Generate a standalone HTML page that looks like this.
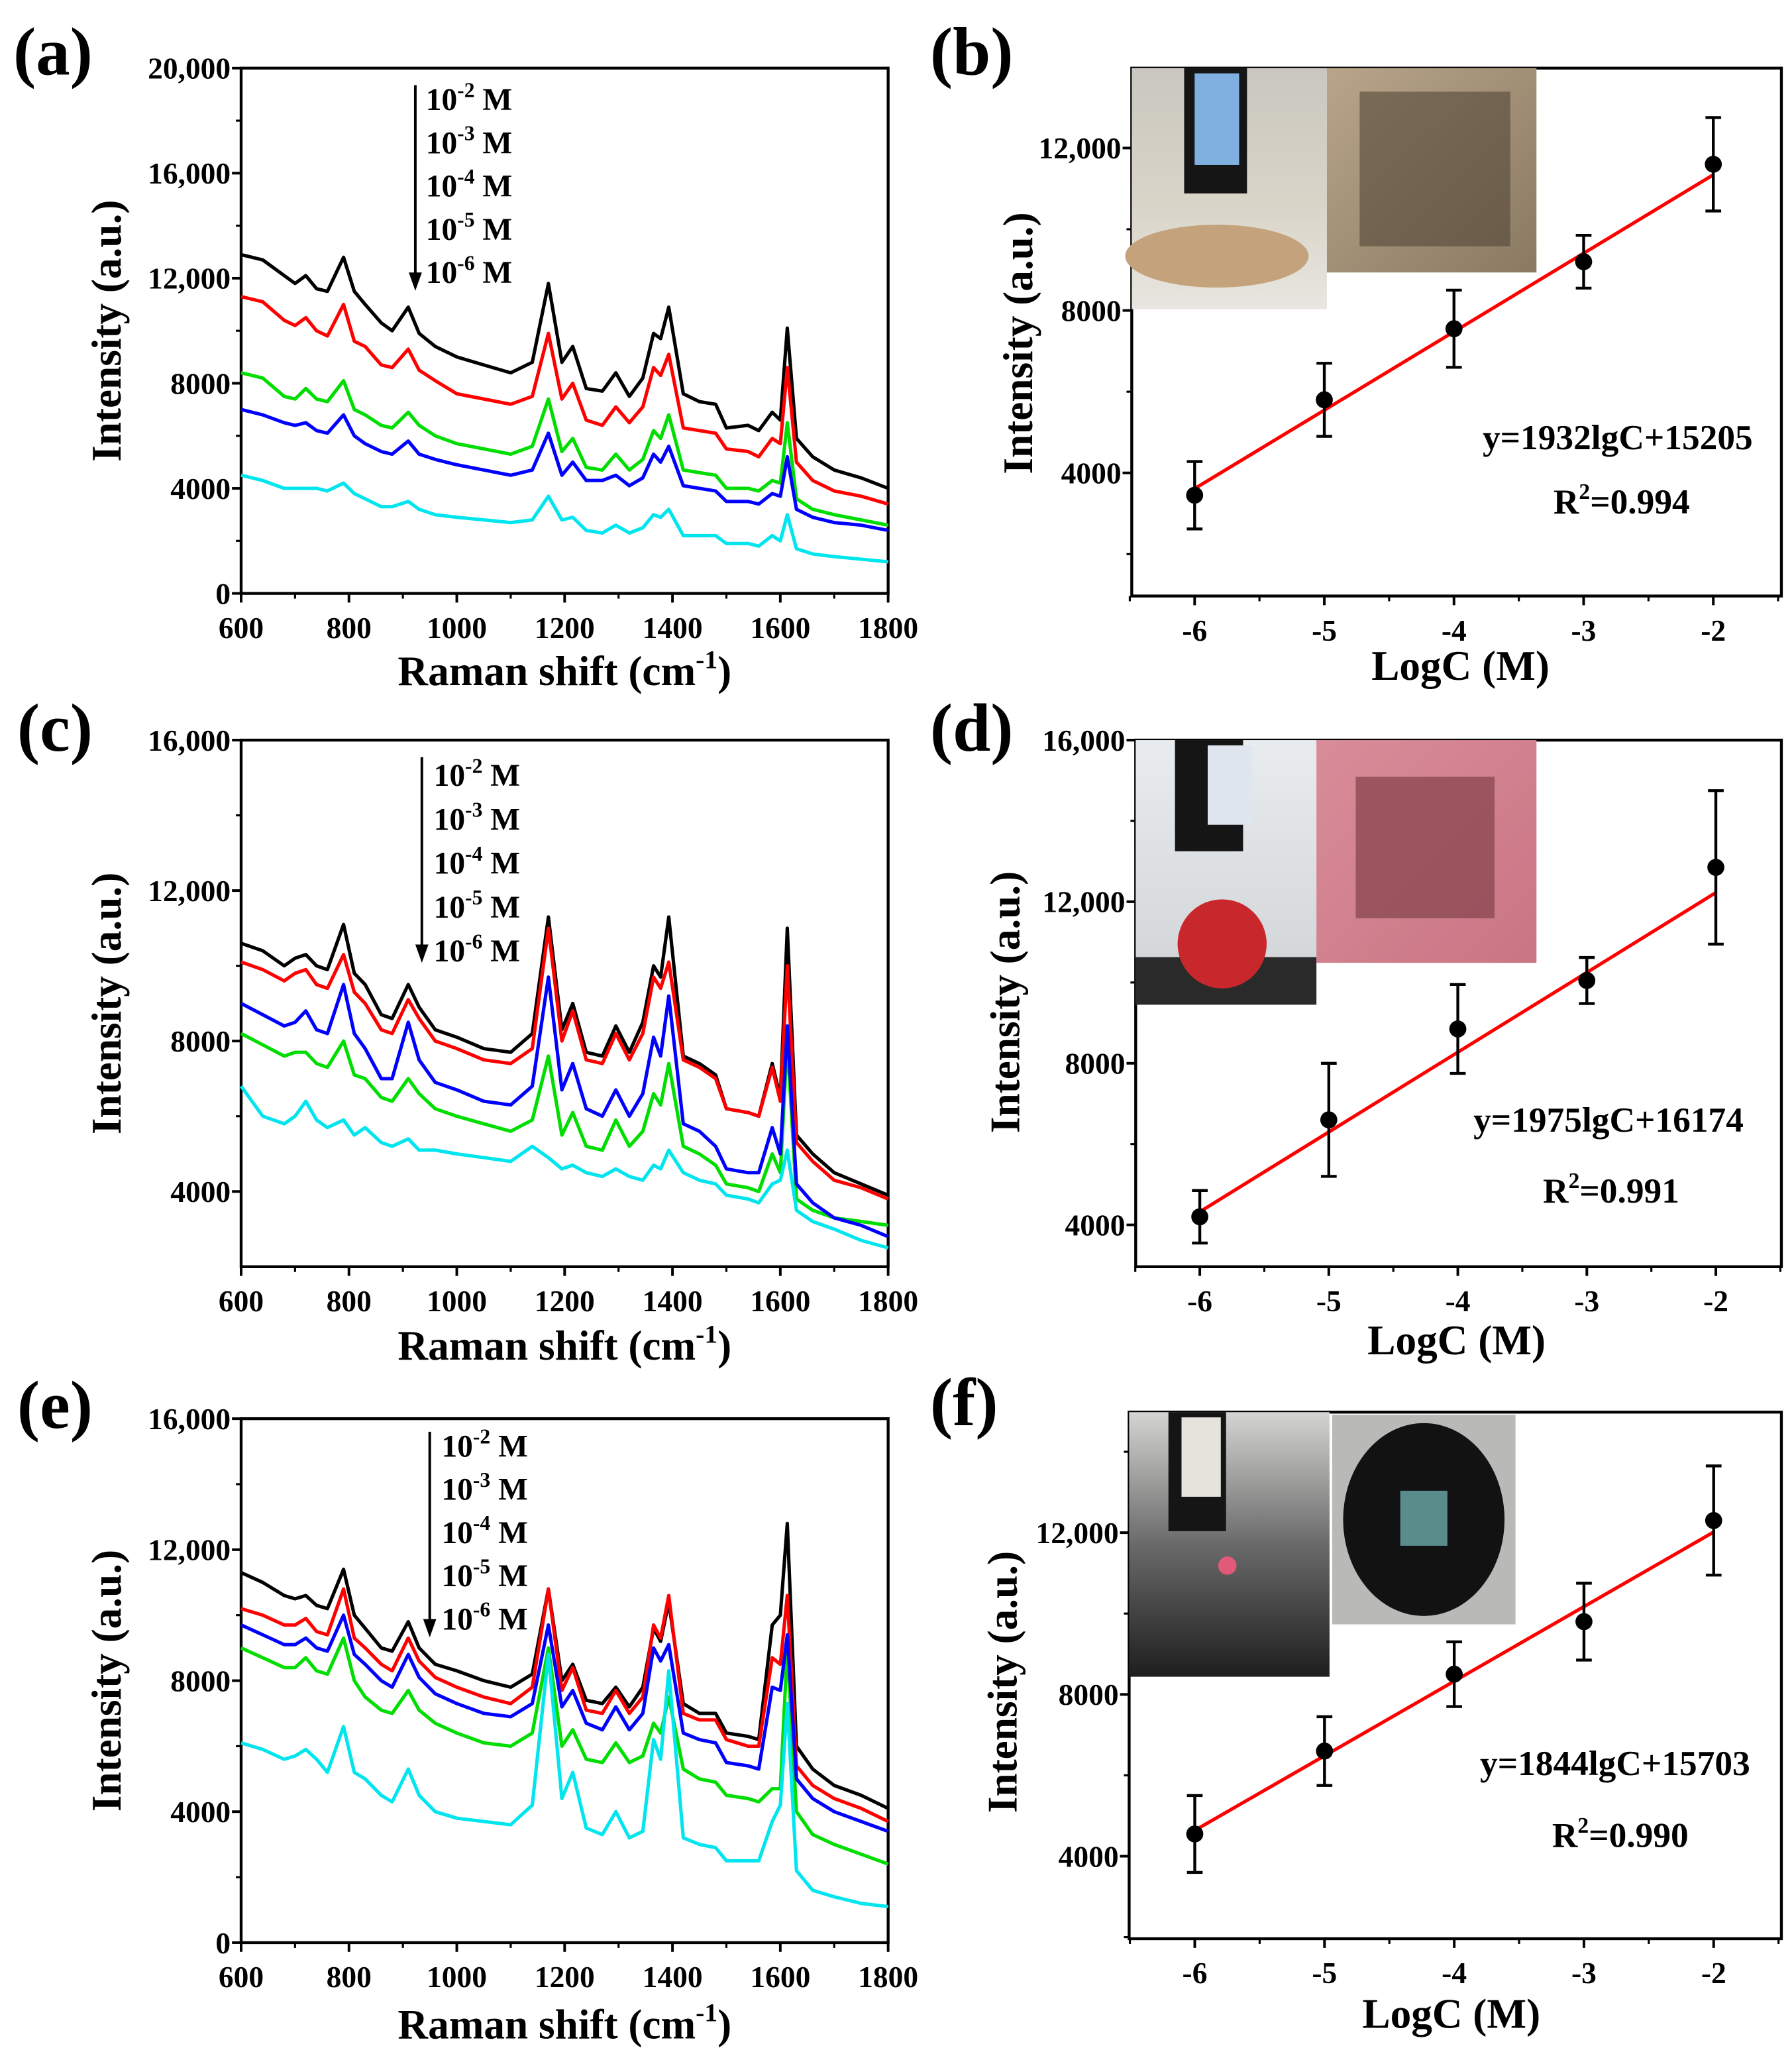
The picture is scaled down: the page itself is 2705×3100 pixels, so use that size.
<!DOCTYPE html>
<html><head><meta charset="utf-8">
<style>
html,body{margin:0;padding:0;background:#fff;}
svg{display:block;}
text{font-family:"Liberation Serif",serif;font-weight:bold;fill:#000;}
</style></head>
<body>
<svg id="fig" xmlns="http://www.w3.org/2000/svg" width="2705" height="3100" viewBox="0 0 1368 1568">
<defs>
<linearGradient id="gFish" x1="0" y1="0" x2="0" y2="1"><stop offset="0" stop-color="#c9c7bf"/><stop offset="0.55" stop-color="#d9d4c8"/><stop offset="1" stop-color="#e8e6e0"/></linearGradient>
<linearGradient id="gScale" x1="0" y1="0" x2="1" y2="1"><stop offset="0" stop-color="#b8a58a"/><stop offset="1" stop-color="#8a7a62"/></linearGradient>
<linearGradient id="gApple" x1="0" y1="0" x2="0" y2="1"><stop offset="0" stop-color="#e9ecee"/><stop offset="1" stop-color="#cfd3d6"/></linearGradient>
<linearGradient id="gPink" x1="0" y1="0" x2="1" y2="1"><stop offset="0" stop-color="#d98c99"/><stop offset="1" stop-color="#c97584"/></linearGradient>
<linearGradient id="gDark" x1="0" y1="0" x2="0" y2="1"><stop offset="0" stop-color="#d4d4d2"/><stop offset="0.5" stop-color="#6a6a6a"/><stop offset="1" stop-color="#1e1e1e"/></linearGradient>
</defs>
<g id="root"></g>
</svg>
<script>
// ---------- Data ----------
const ramanX = [600,640,680,700,720,740,760,790,810,830,860,880,910,930,960,1000,1050,1100,1140,1170,1195,1215,1240,1270,1295,1320,1345,1365,1378,1393,1420,1450,1480,1500,1540,1560,1585,1600,1613,1630,1660,1700,1750,1800];
const seriesNames = ['1e-2','1e-3','1e-4','1e-5','1e-6'];
const seriesColors = ['#000000','#ff0000','#00dd00','#0000ff','#00e5ee'];
// panel a
const aBlack = [12900,12700,12100,11800,12100,11600,11500,12800,11500,11000,10300,10000,10900,9900,9400,9000,8700,8400,8800,11800,8800,9400,7800,7700,8400,7500,8200,9900,9700,10900,7600,7300,7200,6300,6400,6200,6900,6600,10100,5900,5200,4700,4400,4000];
const aRed = [11300,11100,10400,10200,10500,10000,9800,11000,9600,9400,8700,8600,9300,8500,8100,7600,7400,7200,7500,9900,7400,8000,6600,6400,7100,6500,7100,8600,8300,9100,6300,6200,6100,5500,5400,5200,5900,5700,8600,5000,4300,3900,3700,3400];
const aGreen = [8400,8200,7500,7400,7800,7400,7300,8100,7000,6800,6400,6300,6900,6400,6000,5700,5500,5300,5600,7400,5400,5900,4800,4700,5300,4700,5100,6200,5900,6800,4700,4600,4500,4000,4000,3900,4300,4200,6500,3600,3200,3000,2800,2600];
const aBlue = [7000,6800,6500,6400,6500,6200,6100,6800,6000,5700,5400,5300,5800,5300,5100,4900,4700,4500,4700,6100,4500,5000,4300,4300,4500,4100,4400,5300,5000,5600,4100,4000,3900,3500,3500,3400,3800,3700,5200,3200,2900,2700,2600,2400];
const aCyan = [4500,4300,4000,4000,4000,4000,3900,4200,3800,3600,3300,3300,3500,3200,3000,2900,2800,2700,2800,3700,2800,2900,2400,2300,2600,2300,2500,3000,2900,3200,2200,2200,2200,1900,1900,1800,2200,2000,3000,1700,1500,1400,1300,1200];
// panel c
const cBlack = [10600,10400,10000,10200,10300,10000,9900,11100,9800,9500,8700,8600,9500,8900,8300,8100,7800,7700,8200,11300,8300,9000,7700,7600,8400,7700,8500,10000,9700,11300,7600,7400,7100,6200,6100,6000,7400,6500,11000,5500,5000,4500,4200,3900];
const cRed = [10100,9900,9600,9800,9900,9500,9400,10300,9300,9000,8300,8200,9100,8600,8000,7800,7500,7400,7800,11000,8000,8800,7500,7400,8200,7500,8200,9700,9400,10100,7500,7300,7000,6200,6100,6000,7300,6400,10000,5300,4800,4300,4100,3800];
const cGreen = [8200,7900,7600,7700,7700,7400,7300,8000,7100,7000,6500,6400,7000,6600,6200,6000,5800,5600,5900,7600,5500,6100,5200,5100,5900,5200,5600,6600,6300,7400,5200,5000,4700,4200,4100,4000,5000,4500,8000,3800,3500,3300,3200,3100];
const cBlue = [9000,8700,8400,8500,8800,8300,8200,9500,8200,7800,7000,7000,8500,7500,6900,6700,6400,6300,6800,9700,6700,7400,6200,6000,6700,6000,6600,8100,7600,9200,5800,5600,5200,4600,4500,4500,5700,5000,8400,4200,3700,3300,3100,2800];
const cCyan = [6800,6000,5800,6000,6400,5900,5700,5900,5500,5700,5300,5200,5400,5100,5100,5000,4900,4800,5200,4900,4600,4700,4500,4400,4600,4400,4300,4700,4600,5100,4500,4300,4200,3900,3800,3700,4200,4300,5100,3500,3200,3000,2700,2500];
// panel e
const eBlack = [11300,11000,10600,10500,10600,10300,10200,11400,10000,9600,9000,8900,9800,9000,8500,8300,8000,7800,8200,10800,8000,8500,7400,7300,7800,7200,7800,9600,9200,10400,7300,7000,7000,6400,6300,6200,9700,10000,12800,6000,5300,4800,4500,4100];
const eRed = [10200,10000,9700,9700,9900,9500,9400,10800,9300,9000,8500,8300,9300,8600,8100,7800,7500,7300,7800,10800,7700,8400,7100,7000,7700,7000,7500,9700,9300,10600,7000,6800,6800,6200,6000,6000,8700,8500,10600,5400,4800,4400,4100,3700];
const eGreen = [9000,8700,8400,8400,8700,8300,8200,9300,8000,7500,7100,7000,7700,7100,6700,6400,6100,6000,6400,9000,6000,6500,5600,5500,6100,5500,5700,6700,6400,7500,5300,5000,4900,4500,4400,4300,4700,4700,9000,4000,3300,3000,2700,2400];
const eBlue = [9700,9400,9100,9100,9300,9000,8900,10000,8800,8500,8000,7800,8800,8100,7600,7300,7000,6900,7300,9700,7200,7700,6700,6500,7200,6500,7000,9000,8600,9100,6400,6200,6100,5500,5400,5300,7800,7700,9400,5000,4400,4000,3700,3400];
const eCyan = [6100,5900,5600,5700,5900,5600,5200,6600,5200,5000,4500,4300,5300,4500,4000,3800,3700,3600,4200,8800,4400,5200,3500,3300,4000,3200,3400,6200,5600,8300,3200,3000,2900,2500,2500,2500,3700,4200,7300,2200,1600,1400,1200,1100];
// calibration panels
const logC = [-6,-5,-4,-3,-2];
const bMean = [3450,5800,7550,9200,11600];
const bErr = [830,900,950,650,1150];
const bSlope = 1932, bIntercept = 15205;
const dMean = [4200,6600,8850,10050,12850];
const dErr = [650,1400,1100,570,1900];
const dSlope = 1975, dIntercept = 16174;
const fMean = [4550,6600,8500,9800,12300];
const fErr = [950,850,800,950,1350];
const fSlope = 1844, fIntercept = 15703;
const conc = ['10','10','10','10','10'];
const concExp = ['-2','-3','-4','-5','-6'];

// ---------- Drawing ----------
const NS='http://www.w3.org/2000/svg';
const root=document.getElementById('root');
function el(tag,attrs,parent,txt){const e=document.createElementNS(NS,tag);for(const k in attrs)e.setAttribute(k,attrs[k]);if(txt!==undefined)e.textContent=txt;(parent||root).appendChild(e);return e;}
function fmt(v){return v>=10000?String(v).replace(/(\d+)(\d{3})$/,'$1,$2'):String(v);}

function axes(g,P,xt,xminor,yt,yminor,xfmt){
  const sx=v=>P.x0+(v-P.xmin)/(P.xmax-P.xmin)*(P.x1-P.x0);
  const sy=v=>P.y1-(v-P.ymin)/(P.ymax-P.ymin)*(P.y1-P.y0);
  const fr=el('rect',{x:P.x0,y:P.y0,width:P.x1-P.x0,height:P.y1-P.y0,fill:'none',stroke:'#000','stroke-width':2.2},g);
  
  
  xt.forEach(v=>{el('line',{x1:sx(v),x2:sx(v),y1:P.y1,y2:P.y1+7,stroke:'#000','stroke-width':2},g);
    const t=el('text',{x:sx(v),y:P.y1+34,'text-anchor':'middle','font-size':23},g,xfmt(v));
    
    });
  xminor.forEach(v=>el('line',{x1:sx(v),x2:sx(v),y1:P.y1,y2:P.y1+4,stroke:'#000','stroke-width':1.6},g));
  yt.forEach(v=>{el('line',{x1:P.x0-7,x2:P.x0,y1:sy(v),y2:sy(v),stroke:'#000','stroke-width':2},g);
    const t=el('text',{x:P.x0-8,y:sy(v)+8,'text-anchor':'end','font-size':23},g,fmt(v));
    
    });
  yminor.forEach(v=>el('line',{x1:P.x0-4,x2:P.x0,y1:sy(v),y2:sy(v),stroke:'#000','stroke-width':1.6},g));
  return {sx,sy};
}
function labels(g,P,panel,plx,ply,ytx,yty,xtx,xty,xtitle,sup){
  const pl=el('text',{x:plx,y:ply,'font-size':52},g,panel);
  
  
  const yt=el('text',{x:ytx,y:yty,'font-size':32,'text-anchor':'middle',transform:`rotate(-90 ${ytx} ${yty})`},g,'Intensity (a.u.)');
  
  
  const xt=el('text',{x:xtx,y:xty,'font-size':32,'text-anchor':'middle'},g,xtitle);
  
  
  if(sup){el('tspan',{'font-size':20,dy:-13},xt,'-1');el('tspan',{dy:13},xt,')');}
}
function range(a,b,s){const r=[];for(let v=a;v<=b+1e-9;v+=s)r.push(Math.round(v*1000)/1000);return r;}

function spectraPanel(P,series,panel,lab,arrow){
  const g=el('g',{});
  
  
  const {sx,sy}=axes(g,P,range(600,1800,200),range(700,1700,200),P.yt,P.ym,v=>String(v));
  series.forEach((s,i)=>{
    const d=ramanX.map((x,j)=>(j?'L':'M')+sx(x).toFixed(1)+' '+sy(s[j]).toFixed(1)).join(' ');
    const p=el('path',{d,fill:'none',stroke:seriesColors[i],'stroke-width':2.6,'stroke-linejoin':'round'},g);
    
    
  });
  el('line',{x1:arrow.x,x2:arrow.x,y1:arrow.y0,y2:arrow.y1-12,stroke:'#000','stroke-width':2},g);
  const ah=el('polygon',{points:`${arrow.x-5},${arrow.y1-14} ${arrow.x+5},${arrow.y1-14} ${arrow.x},${arrow.y1}`,fill:'#000'},g);
  
  
  conc.forEach((c,i)=>{
    const t=el('text',{x:arrow.tx,y:arrow.ty0+i*arrow.dy,'font-size':24},g,c);
    el('tspan',{'font-size':16,dy:-10},t,concExp[i]);
    el('tspan',{dy:10},t,' M');
    
    
  });
  labels(g,P,panel,lab.plx,lab.ply,lab.ytx,(P.y0+P.y1)/2,(P.x0+P.x1)/2+(lab.xoff||0),lab.xty,'Raman shift (cm',true);
}

function photos(g,kind,b){
  const [a1,a2]=b;
  if(kind==='fish'){
    el('rect',{x:a1[0],y:a1[1],width:a1[2],height:a1[3],fill:'url(#gFish)'},g);
    el('rect',{x:a1[0]+40,y:a1[1],width:48,height:a1[3]*0.52,fill:'#151515'},g);
    el('rect',{x:a1[0]+48,y:a1[1]+4,width:34,height:a1[3]*0.38,fill:'#7fb0e0'},g);
    el('ellipse',{cx:a1[0]+65,cy:a1[1]+a1[3]*0.78,rx:70,ry:24,fill:'#c4a37c'},g);
    el('rect',{x:a2[0],y:a2[1],width:a2[2],height:a2[3],fill:'url(#gScale)'},g);
    el('rect',{x:a2[0]+25,y:a2[1]+18,width:a2[2]-45,height:a2[3]-38,fill:'#4a4032',opacity:0.55},g);
  }else if(kind==='apple'){
    el('rect',{x:a1[0],y:a1[1],width:a1[2],height:a1[3],fill:'url(#gApple)'},g);
    el('rect',{x:a1[0]+30,y:a1[1],width:52,height:a1[3]*0.42,fill:'#151515'},g);
    el('rect',{x:a1[0]+55,y:a1[1]+4,width:34,height:a1[3]*0.3,fill:'#dfe6ef'},g);
    el('rect',{x:a1[0],y:a1[1]+a1[3]*0.82,width:a1[2],height:a1[3]*0.18,fill:'#2a2a2a'},g);
    el('circle',{cx:a1[0]+66,cy:a1[1]+a1[3]*0.77,r:34,fill:'#c8282c'},g);
    el('rect',{x:a2[0],y:a2[1],width:a2[2],height:a2[3],fill:'url(#gPink)'},g);
    el('rect',{x:a2[0]+30,y:a2[1]+28,width:a2[2]-62,height:a2[3]-62,fill:'#8c4a52',opacity:0.8},g);
  }else{
    el('rect',{x:a1[0],y:a1[1],width:a1[2],height:a1[3],fill:'url(#gDark)'},g);
    el('rect',{x:a1[0]+30,y:a1[1],width:44,height:a1[3]*0.45,fill:'#151515'},g);
    el('rect',{x:a1[0]+40,y:a1[1]+4,width:30,height:a1[3]*0.3,fill:'#e4e4dd'},g);
    el('circle',{cx:a1[0]+75,cy:a1[1]+a1[3]*0.58,r:7,fill:'#e25a7a'},g);
    el('rect',{x:a2[0],y:a2[1],width:a2[2],height:a2[3],fill:'#b9b9b7'},g);
    el('ellipse',{cx:a2[0]+a2[2]/2,cy:a2[1]+a2[3]/2,rx:a2[2]*0.44,ry:a2[3]*0.46,fill:'#121212'},g);
    el('rect',{x:a2[0]+52,y:a2[1]+58,width:36,height:42,fill:'#5a8c8c'},g);
  }
}

function calPanel(P,mean,err,slope,icpt,panel,lab,kind,pb,eq){
  const g=el('g',{});
  
  
  const {sx,sy}=axes(g,P,logC,range(-6.5,-1.5,0.5).filter(v=>v%1!==0),P.yt,P.ym,v=>String(v));
  const ph=el('g',{},g);
  
  
  photos(ph,kind,pb);
  const fl=el('line',{x1:sx(logC[0]),y1:sy(slope*logC[0]+icpt),x2:sx(logC[4]),y2:sy(slope*logC[4]+icpt),stroke:'#ff0000','stroke-width':2.6},g);
  
  
  logC.forEach((x,i)=>{
    const X=sx(x),yt=sy(mean[i]+err[i]),yb=sy(mean[i]-err[i]);
    const eb=el('path',{d:`M${X} ${yt}V${yb}M${X-6} ${yt}H${X+6}M${X-6} ${yb}H${X+6}`,stroke:'#000','stroke-width':2.2,fill:'none'},g);
    
    
    const c=el('circle',{cx:X,cy:sy(mean[i]),r:6.5,fill:'#000'},g);
    
    
  });
  const t1=el('text',{x:eq[0],y:eq[1],'font-size':27,'text-anchor':'middle'},g,`y=${slope}lgC+${icpt}`);
  
  
  const t2=el('text',{x:eq[2],y:eq[3],'font-size':27,'text-anchor':'middle'},g,'R');
  el('tspan',{'font-size':17,dy:-11},t2,'2');
  el('tspan',{dy:11},t2,'=0.99'+eq[4]);
  
  
  labels(g,P,panel,lab.plx,lab.ply,lab.ytx,lab.yty,lab.xtx,lab.xty,'LogC (M)',false);
}

spectraPanel({x0:184,x1:678,y0:52,y1:453,xmin:600,xmax:1800,ymin:0,ymax:20000,yt:range(0,20000,4000),ym:range(2000,18000,4000)},
  [aBlack,aRed,aGreen,aBlue,aCyan],'(a)',{plx:10,ply:57,ytx:92,xty:523},{x:317,y0:65,y1:222,tx:325,ty0:84,dy:33});
spectraPanel({x0:184,x1:678,y0:565,y1:967,xmin:600,xmax:1800,ymin:2000,ymax:16000,yt:range(4000,16000,4000),ym:range(6000,14000,4000)},
  [cBlack,cRed,cGreen,cBlue,cCyan],'(c)',{plx:13,ply:573,ytx:92,xty:1038},{x:322,y0:578,y1:735,tx:331,ty0:600,dy:33.5});
spectraPanel({x0:184,x1:678,y0:1083,y1:1483,xmin:600,xmax:1800,ymin:0,ymax:16000,yt:range(0,16000,4000),ym:range(2000,14000,4000)},
  [eBlack,eRed,eGreen,eBlue,eCyan],'(e)',{plx:13,ply:1090,ytx:92,xty:1556},{x:328,y0:1093,y1:1250,tx:337,ty0:1112,dy:33});

calPanel({x0:864,x1:1360,y0:52,y1:455,xmin:-6.485,xmax:-1.475,ymin:968,ymax:13968,yt:[4000,8000,12000],ym:[2000,6000,10000]},
  bMean,bErr,bSlope,bIntercept,'(b)',{plx:710,ply:57,ytx:788,yty:262,xtx:1115,xty:519},'fish',
  [[864,52,149,184],[1013,52,160,156]],[1235,343,1238,392,4]);
calPanel({x0:867,x1:1360,y0:565,y1:967,xmin:-6.497,xmax:-1.492,ymin:2964,ymax:16000,yt:[4000,8000,12000,16000],ym:[6000,10000,14000]},
  dMean,dErr,dSlope,dIntercept,'(d)',{plx:710,ply:573,ytx:778,yty:765,xtx:1112,xty:1034},'apple',
  [[867,565,138,202],[1005,565,168,170]],[1228,864,1230,918,1]);
calPanel({x0:862,x1:1360,y0:1078,y1:1480,xmin:-6.506,xmax:-1.478,ymin:1960,ymax:14980,yt:[4000,8000,12000],ym:[2000,6000,10000,14000]},
  fMean,fErr,fSlope,fIntercept,'(f)',{plx:710,ply:1088,ytx:776,yty:1284,xtx:1108,xty:1548},'puck',
  [[862,1078,153,202],[1017,1080,140,160]],[1233,1355,1237,1410,0]);
</script>
</body></html>
